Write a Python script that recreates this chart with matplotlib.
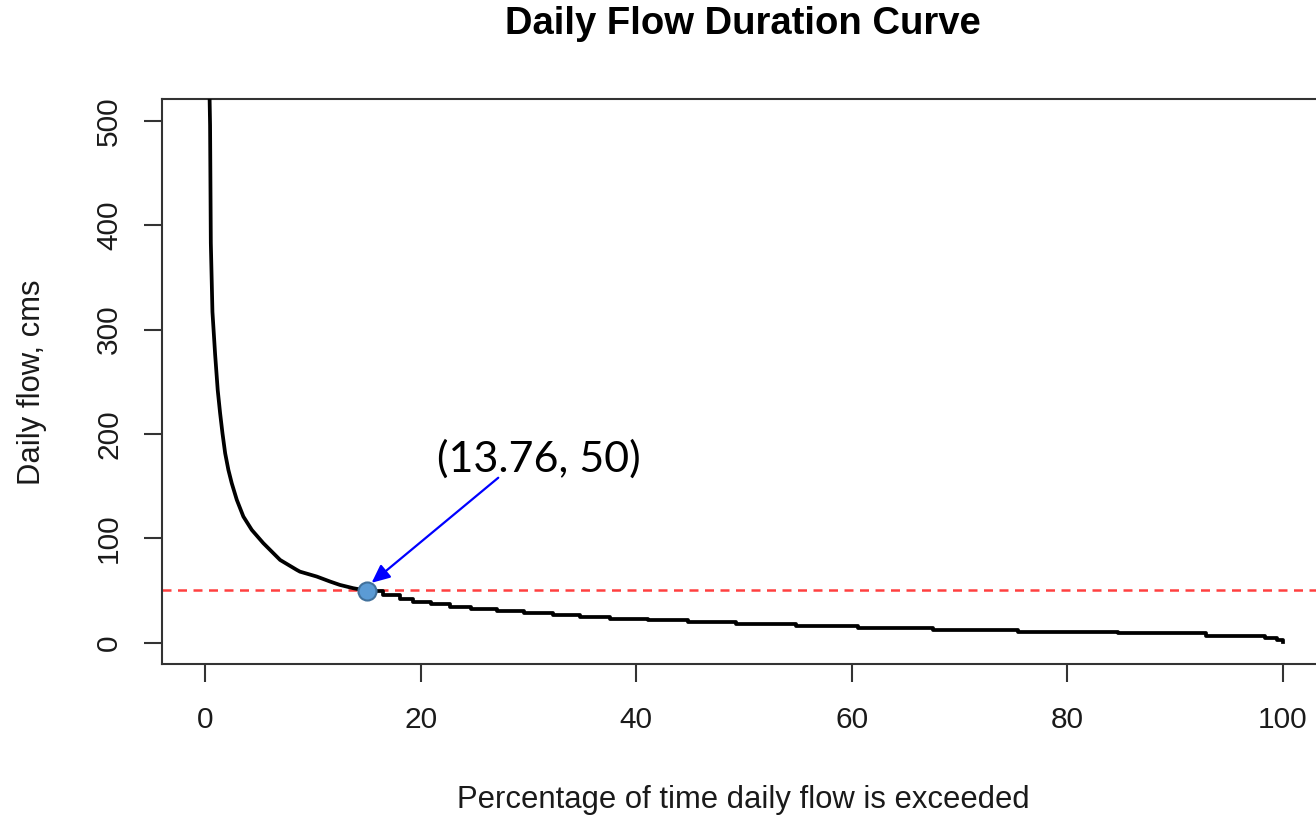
import matplotlib
matplotlib.use("Agg")
import matplotlib.pyplot as plt

# Percentage of time exceeded (x) and daily flow, cms (y)
exceed_pct = [0.35, 0.46, 0.53, 0.68, 0.93, 1.17, 1.39, 1.61, 1.86, 2.16, 2.47, 2.94,
              3.55, 4.33, 5.4, 6.96, 8.5, 8.8, 10.36, 11.6, 12.5, 13.76, 15.0, 16.5, 18.1,
              19.3, 21.0, 22.7, 24.7, 27.1, 29.6, 32.3, 34.8, 37.6, 41.1, 44.8, 49.3,
              54.8, 60.6, 67.5, 75.4, 84.7, 92.9, 98.3, 99.5, 99.97]
flow_cms = [560, 496, 383, 317, 276, 242, 220, 200.7, 181.5, 165.5, 152.8, 136.8,
            120.8, 108, 95.3, 79.2, 69.7, 68.0, 63.3, 58.5, 55.3, 52.1, 49.8, 45.7, 41.6,
            38.7, 36.8, 34.5, 32.6, 30.7, 28.8, 26.9, 24.9, 23.0, 21.4, 19.8, 18.2,
            16.0, 13.8, 12.2, 10.5, 9.0, 6.4, 4.2, 2.6, 1.0]

# index from which the low-flow part is drawn as steps
step_start = 22

threshold_flow = 50
point_x = [15.0]
point_y = [49.8]
annot_text = "(13.76, 50)"

x_ticks = [0, 20, 40, 60, 80, 100]
y_ticks = [0, 100, 200, 300, 400, 500]

W, H = 1316, 819
fig = plt.figure(figsize=(W / 100, H / 100), dpi=100)
left, right, bottom, top = 162 / W, 1326 / W, (H - 664.3) / H, (H - 99) / H
ax = fig.add_axes([left, bottom, right - left, top - bottom])

ax.plot(exceed_pct[:step_start + 1], flow_cms[:step_start + 1], color="black", lw=2.7,
        solid_joinstyle="round", solid_capstyle="butt", zorder=3)
ax.plot(exceed_pct[step_start:], flow_cms[step_start:], color="black", lw=2.7,
        drawstyle="steps-post", zorder=3)

ax.axhline(threshold_flow, color="#FF4040", lw=1.8, dashes=(3.6, 2.6), zorder=2)
ax.plot(point_x, point_y, "o", ms=13, mfc="#5B9BD5", mec="#41719C", mew=1.5, zorder=5)

ax.annotate("", xy=(point_x[0] + 0.45, point_y[0] + 7.5), xytext=(27.2, 158),
            arrowprops=dict(arrowstyle="-|>,head_length=1.1,head_width=0.5",
                            color="#0000FF", lw=1.6, shrinkA=0, shrinkB=0), zorder=6)
ax.text(31.0, 176, annot_text, fontsize=31, family="Lato", ha="center", va="center",
        color="black")

ax.set_xlim(-4, 104)
ax.set_ylim(-20.8, 521)
ax.set_xticks(x_ticks)
ax.set_yticks(y_ticks)

fam = ["Liberation Sans", "DejaVu Sans"]
tcol = "#1a1a1a"
ax.set_xticklabels([str(t) for t in x_ticks], fontsize=21.5, family=fam, color=tcol)
ax.set_yticklabels([str(t) for t in y_ticks], fontsize=21.5, family=fam, color=tcol,
                   rotation=90, va="center")
ax.tick_params(axis="both", direction="out", length=13, width=1.5, color="#333333")
ax.tick_params(axis="x", pad=17)
ax.tick_params(axis="y", pad=15)

for s in ax.spines.values():
    s.set_color("#333333")
    s.set_linewidth(1.5)

fig.text(743 / W, (H - 800) / H, "Percentage of time daily flow is exceeded",
         fontsize=22.3, family=fam, ha="center", va="center", color=tcol)
fig.text(32 / W, (H - 382) / H, "Daily flow, cms", fontsize=22.3, family=fam,
         rotation=90, ha="center", va="center", color=tcol)
fig.text(743 / W, (H - 24) / H, "Daily Flow Duration Curve", fontsize=27.5,
         family=fam, weight="bold", ha="center", va="center", color="black")

fig.savefig("out.png", dpi=100)
